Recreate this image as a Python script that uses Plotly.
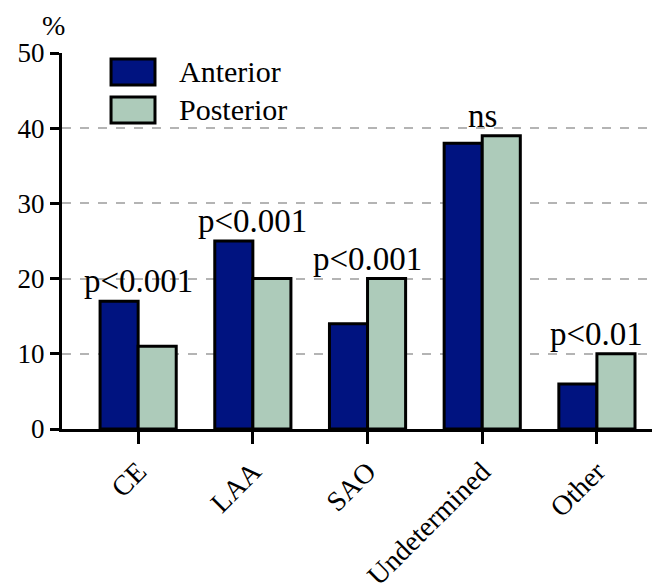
import plotly.graph_objects as go

categories = ["CE", "LAA", "SAO", "Undetermined", "Other"]
anterior = [17, 25, 14, 38, 6]
posterior = [11, 20, 20, 39, 10]
pvalues = ["p<0.001", "p<0.001", "p<0.001", "ns", "p<0.01"]
series_names = ["Anterior", "Posterior"]
colors = ["#001380", "#adcbba"]
yticks = [0, 10, 20, 30, 40, 50]

FONT = "Liberation Serif"

fig = go.Figure()
for name, vals, col in zip(series_names, [anterior, posterior], colors):
    fig.add_trace(go.Bar(
        x=categories, y=vals, name=name,
        marker=dict(color=col, line=dict(color="black", width=3)),
        showlegend=False,
    ))

for cat, a, p, txt in zip(categories, anterior, posterior, pvalues):
    fig.add_annotation(x=cat, y=max(a, p), text=txt, showarrow=False,
                       yanchor="bottom", yshift=0,
                       font=dict(family=FONT, size=33, color="black"))

# legend drawn manually
leg_y = [(0.915, 0.984), (0.814, 0.883)]
for (y0, y1), name, col in zip(leg_y, series_names, colors):
    fig.add_shape(type="rect", xref="paper", yref="paper",
                  x0=0.082, x1=0.1555, y0=y0, y1=y1,
                  fillcolor=col, line=dict(color="black", width=3))
    fig.add_annotation(xref="paper", yref="paper", x=0.192, y=(y0 + y1) / 2,
                       text=name, showarrow=False, xanchor="left", yanchor="middle",
                       font=dict(family=FONT, size=30, color="black"))

fig.add_annotation(xref="paper", yref="paper", x=-0.0134, y=1.1197, text="%",
                   showarrow=False, xanchor="center", yanchor="top",
                   font=dict(family=FONT, size=28, color="black"))

fig.update_layout(
    width=652, height=577,
    margin=dict(l=54, r=0, t=45, b=156),
    paper_bgcolor="white", plot_bgcolor="white",
    barmode="group", bargap=0.336, bargroupgap=0,
    font=dict(family=FONT, size=27, color="black"),
    xaxis=dict(
        range=[-0.664, 4.55], tickangle=-45,
        showline=True, linecolor="black", linewidth=3,
        ticks="outside", ticklen=12, tickwidth=3, tickcolor="black",
        showgrid=False, zeroline=False, automargin=False,
        tickfont=dict(family=FONT, size=28, color="black"),
    ),
    yaxis=dict(
        range=[0, 50], tickvals=yticks,
        showline=True, linecolor="black", linewidth=3,
        ticks="outside", ticklen=9, tickwidth=3, tickcolor="black",
        showgrid=True, gridcolor="#b4b4b4", griddash="dash", gridwidth=1.5,
        zeroline=False, automargin=False,
        tickfont=dict(family=FONT, size=27, color="black"),
    ),
)

fig.write_html("out.html")
